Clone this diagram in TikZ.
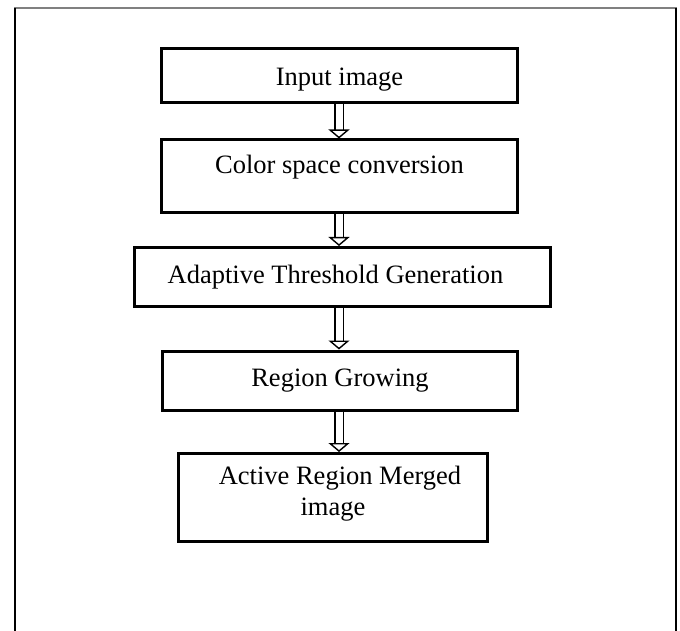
\documentclass[tikz,border=0pt]{standalone}
\usepackage{fontspec}
\setmainfont{Liberation Serif}
\usetikzlibrary{arrows.meta}
\tikzset{
  stepbox/.style={draw,line width=3pt,inner sep=0pt,align=center,
    font=\fontsize{26.5}{31}\selectfont},
  flowarrow/.style={double,double distance=7pt,line width=1.4pt,
    -{Triangle[open,length=9pt,width=21pt,line width=1.4pt]}},
  frameline/.style={line width=2pt}
}
\begin{document}
\begin{tikzpicture}[x=1pt,y=-1pt]
	\useasboundingbox (0,0) rectangle (680,631);
	% page frame
	\draw[frameline,gray] (14,8) -- (677,8);
	\draw[frameline] (15,8) -- (15,631);
	\draw[frameline] (676,8) -- (676,631);
	% steps
	\node[stepbox,minimum width=356pt,minimum height=54pt,text height=26pt,text depth=6pt] (input) at (339.5,75.5) {Input image};
	\node[stepbox,minimum width=356pt,minimum height=73pt,text height=18pt,text depth=24pt] (conv) at (339.5,176.5) {Color space conversion};
	\node[stepbox,minimum width=416pt,minimum height=59pt] (thresh) at (342.5,277) {Adaptive Threshold Generation\hspace*{14pt}};
	\node[stepbox,minimum width=355pt,minimum height=59pt] (grow) at (340,380.5) {Region Growing};
	\node[stepbox,minimum width=309pt,minimum height=88pt] (merge) at (333,497.5) {\hspace*{14pt}Active Region Merged\\image\hspace*{13pt}\\[-17pt]};
	% arrows
	\draw[flowarrow] (339,0 |- input.south) -- (339,0 |- conv.north);
	\draw[flowarrow] (339,0 |- conv.south) -- (339,0 |- thresh.north);
	\draw[flowarrow] (339,0 |- thresh.south) -- (339,0 |- grow.north);
	\draw[flowarrow] (339,0 |- grow.south) -- (339,0 |- merge.north);
\end{tikzpicture}
\end{document}
